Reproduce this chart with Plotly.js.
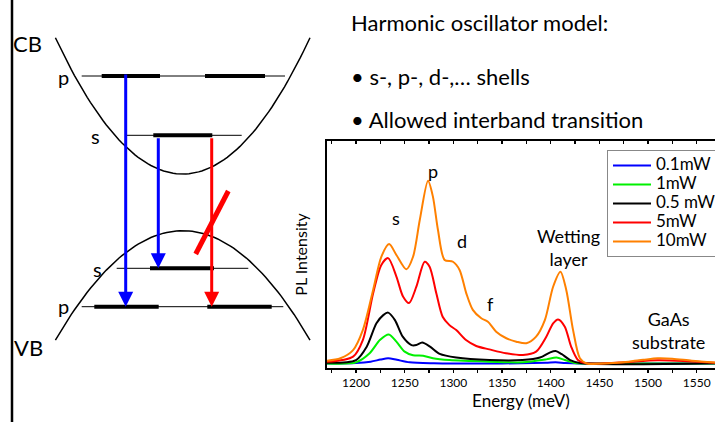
<!DOCTYPE html>
<html>
<head>
<meta charset="utf-8">
<script src="https://cdn.plot.ly/plotly-3.0.1.min.js"></script>
<style>html,body{margin:0;padding:0;background:#fff;}#chart{width:715px;height:422px;}</style>
</head>
<body>
<div id="chart"></div>
<script>
// ---------- PL spectra (Energy in meV, intensity in arbitrary units) ----------
const seriesNames = ["0.1mW", "1mW", "0.5 mW", "5mW", "10mW"];
const seriesColors = ["#0000FF", "#00F000", "#000000", "#FF0000", "#FF8000"];

const energy_01mW = [1170, 1200, 1215, 1225, 1233, 1242, 1255, 1280, 1350, 1395, 1405, 1415, 1430, 1500, 1569];
const pl_01mW     = [2.0, 2.2, 2.8, 3.7, 4.3, 3.6, 2.5, 2.1, 2.0, 2.3, 2.5, 2.2, 2.0, 2.0, 2.0];

const energy_1mW = [1170, 1200, 1214, 1224.5, 1233.7, 1241.5, 1250, 1258.6, 1269, 1279, 1296, 1337, 1371, 1395.5, 1406, 1414.5, 1425, 1440, 1569];
const pl_1mW     = [2.0, 2.5, 6.5, 12.3, 14.8, 11.6, 7.2, 5.6, 5.4, 4.3, 3.5, 2.8, 2.5, 3.8, 4.6, 3.5, 2.2, 2.0, 2.0];

const energy_05mW = [1170, 1200, 1211, 1221, 1228, 1233, 1240, 1248, 1257, 1262, 1268, 1276, 1286, 1303, 1337, 1371, 1389, 1399, 1405, 1411, 1420, 1430, 1569];
const pl_05mW     = [2.3, 3.5, 9.4, 19.7, 23.3, 24.4, 21.1, 13.8, 10.1, 10.1, 11.2, 9.4, 6.2, 4.6, 3.5, 3.5, 4.6, 6.8, 7.5, 6.2, 3.5, 2.2, 2.1];

const energy_5mW = [1170, 1197, 1207, 1217.6, 1226, 1233, 1241.5, 1248.3, 1254.5, 1262, 1270.5, 1275.6, 1282.5, 1289, 1296, 1303, 1313, 1323.5, 1337, 1354, 1371.5, 1385, 1395.5, 1402.5, 1407.6, 1414.5, 1421, 1428, 1436, 1470, 1510, 1540, 1569];
const pl_5mW     = [2.7, 5.0, 12.3, 32.9, 45.4, 48.4, 40.3, 31.5, 28.6, 35.8, 46.8, 44.6, 32.9, 22.6, 18.9, 16.7, 12.3, 9.7, 8.2, 6.5, 5.7, 7.2, 13.8, 19.7, 21.4, 18.2, 9.4, 3.5, 2.1, 2.4, 3.4, 3.0, 2.3];

const energy_10mW = [1170, 1184, 1197, 1207, 1217.6, 1226, 1234, 1241.5, 1251.7, 1258.6, 1265.5, 1274, 1279, 1284.2, 1291, 1299.6, 1306.4, 1313.3, 1320, 1328.7, 1335.5, 1344, 1354.4, 1364.7, 1375, 1385, 1394, 1402.5, 1410, 1416, 1423, 1430, 1437, 1460, 1480, 1495, 1510, 1525, 1545, 1569];
const pl_10mW     = [3.2, 4.3, 7.9, 16.7, 34.4, 49.0, 54.6, 49.8, 43.5, 49.0, 65.2, 82.5, 75.5, 60.8, 47.6, 46.8, 43.2, 32.9, 25.6, 21.9, 20.4, 16.0, 13.1, 11.6, 10.9, 13.8, 21.1, 35.8, 42.4, 34.4, 16.7, 4.3, 2.0, 2.1, 2.8, 3.6, 4.3, 4.1, 3.2, 2.4];

const energyTickVals = [1200, 1250, 1300, 1350, 1400, 1450, 1500, 1550];

// Peak labels on the spectrum
const peakLabels = ["s", "p", "d", "f", "Wetting<br>layer", "GaAs<br>substrate"];
const peakLabelE = [1241, 1279, 1309, 1338, 1418, 1521];
const peakLabelI = [66, 87, 56, 28, 53, 16.5];

// ---------- Band diagram (schematic, diagram units = pixels of the slide) ----------
const cbMin = {x: 182.7, y: 174, k: 0.00841};
const vbMax = {x: 182.7, y: 230.7, k: 0.00675};
const bandHalfWidth = 127.3;
const levelNames = ["CB p", "CB s", "VB s", "VB p"];
const levelY      = [76, 135.3, 268.3, 306.7];
const levelThinX0 = [81.7, 125, 116.7, 81.7];
const levelThinX1 = [285, 241.7, 248.3, 283.3];
const levelThick  = [[[101.7, 160], [205, 265]], [[153.3, 212.3]], [[150, 214]], [[94.3, 158.7], [207.3, 271.7]]];
const transX     = [125.7, 158.3, 211.7];
const transFrom  = [73, 136.7, 136.7];
const transTo    = [306.7, 268.3, 306.7];
const transColor = ["#0000FF", "#0000FF", "#FF0000"];
const forbiddenSlash = {x: [195.7, 228.3], y: [254, 191]};
const diagramLabels = ["CB", "VB", "p", "s", "s", "p"];
const diagramLabelX = [27, 28, 63, 95, 97, 63];
const diagramLabelY = [43, 347, 77, 136, 269, 306];
const diagramLabelSize = [22, 22, 20, 20, 20, 20];

const bulletText = ["Harmonic oscillator model:", "\u2022 s-, p-, d-,\u2026 shells", "\u2022 Allowed interband transition"];
const bulletY = [22, 76, 119];

// ---------- build ----------
const W = 715, H = 422;
const FONT = "Lato, 'Open Sans', sans-serif";
const traces = [];

const specX = [energy_01mW, energy_1mW, energy_05mW, energy_5mW, energy_10mW];
const specY = [pl_01mW, pl_1mW, pl_05mW, pl_5mW, pl_10mW];
for (let i = 0; i < seriesNames.length; i++) {
  traces.push({
    x: specX[i], y: specY[i], type: "scatter", mode: "lines",
    name: '<span style="font-size:17px">' + seriesNames[i] + '</span>',
    line: {color: seriesColors[i], width: 2, shape: "spline", smoothing: 0.8},
    xaxis: "x", yaxis: "y", hoverinfo: "skip"
  });
}

function band(c, sign) {
  const xs = [], ys = [];
  for (let dx = -bandHalfWidth; dx <= bandHalfWidth + 0.01; dx += bandHalfWidth / 40) {
    xs.push(c.x + dx); ys.push(c.y + sign * c.k * dx * dx);
  }
  return {x: xs, y: ys};
}
const cb = band(cbMin, -1), vb = band(vbMax, 1);
[cb, vb].forEach(b => traces.push({x: b.x, y: b.y, xaxis: "x2", yaxis: "y2", mode: "lines",
  line: {color: "#000", width: 1.5}, showlegend: false, hoverinfo: "skip"}));

for (let i = 0; i < levelY.length; i++) {
  traces.push({x: [levelThinX0[i], levelThinX1[i]], y: [levelY[i], levelY[i]], xaxis: "x2", yaxis: "y2",
    mode: "lines", line: {color: "#000", width: 1}, showlegend: false, hoverinfo: "skip"});
  levelThick[i].forEach(seg => traces.push({x: seg, y: [levelY[i], levelY[i]], xaxis: "x2", yaxis: "y2",
    mode: "lines", line: {color: "#000", width: 4}, showlegend: false, hoverinfo: "skip"}));
}
traces.push({x: forbiddenSlash.x, y: forbiddenSlash.y, xaxis: "x2", yaxis: "y2", mode: "lines",
  line: {color: "#FF0000", width: 5}, showlegend: false, hoverinfo: "skip"});
traces.push({x: [12, 12], y: [0, 422], xaxis: "x2", yaxis: "y2", mode: "lines",
  line: {color: "#000", width: 2.5}, showlegend: false, hoverinfo: "skip"});

const annotations = [];
for (let i = 0; i < transX.length; i++) {
  annotations.push({x: transX[i], y: transTo[i], ax: transX[i], ay: transFrom[i], xref: "x2", yref: "y2",
    axref: "x2", ayref: "y2", text: "", showarrow: true, arrowhead: 2, arrowsize: 1, arrowwidth: 3,
    arrowcolor: transColor[i], standoff: 0, startstandoff: 0});
}
for (let i = 0; i < diagramLabels.length; i++) {
  annotations.push({x: diagramLabelX[i], y: diagramLabelY[i], xref: "x2", yref: "y2", text: diagramLabels[i],
    showarrow: false, font: {family: FONT, size: diagramLabelSize[i], color: "#000"}});
}
for (let i = 0; i < bulletText.length; i++) {
  annotations.push({x: 349, y: bulletY[i], xref: "x2", yref: "y2", xanchor: "left", text: bulletText[i],
    showarrow: false, font: {family: FONT, size: 22, color: "#000"}});
}
for (let i = 0; i < peakLabels.length; i++) {
  annotations.push({x: peakLabelE[i], y: peakLabelI[i], xref: "x", yref: "y", text: peakLabels[i],
    showarrow: false, font: {family: FONT, size: 18, color: "#000"}});
}

const plotL = 327, plotT = 141, plotB = 368;
const xRange = [1170.2, 1568.8];
const layout = {
  width: W, height: H, margin: {l: 0, r: 0, t: 0, b: 0, autoexpand: false},
  paper_bgcolor: "#fff", plot_bgcolor: "rgba(0,0,0,0)", showlegend: true,
  font: {family: FONT, color: "#000"},
  xaxis: {domain: [plotL / W, 1], range: xRange, anchor: "y",
    showline: true, linewidth: 2, linecolor: "#000", mirror: true,
    ticks: "outside", ticklen: 3, tickwidth: 1.5, tickcolor: "#000",
    tickvals: energyTickVals, tickfont: {family: FONT, size: 12},
    minor: {dtick: 25, tick0: 1175, ticks: "outside", ticklen: 3, tickwidth: 1.5, tickcolor: "#000"},
    showgrid: false, zeroline: false,
    title: {text: "Energy (meV)", font: {family: FONT, size: 17}, standoff: 6}},
  xaxis3: {domain: [plotL / W, 1], range: xRange, anchor: "y", overlaying: "x", side: "top",
    showline: false, ticks: "inside", ticklen: 3, tickwidth: 1.5, tickcolor: "#000",
    dtick: 25, tick0: 1175, showticklabels: false, showgrid: false, zeroline: false},
  yaxis: {domain: [1 - plotB / H, 1 - plotT / H], range: [0, 100], anchor: "x",
    showline: true, linewidth: 2, linecolor: "#000", mirror: false,
    showticklabels: false, ticks: "", showgrid: false, zeroline: false,
    title: {text: "PL Intensity", font: {family: FONT, size: 16}, standoff: 13}},
  xaxis2: {domain: [0, 1], range: [0, W], visible: false, anchor: "y2", fixedrange: true},
  yaxis2: {domain: [0, 1], range: [H, 0], visible: false, anchor: "x2", fixedrange: true},
  legend: {x: 607 / W, y: 1 - 150 / H, xref: "paper", yref: "paper", xanchor: "left", yanchor: "top",
    bgcolor: "#fff", bordercolor: "#888", borderwidth: 1, font: {family: FONT, size: 12},
    tracegroupgap: 0, itemwidth: 38},
  annotations: annotations
};

traces.push({x: xRange, y: [0, 0], xaxis: "x3", yaxis: "y", mode: "lines",
  line: {width: 0, color: "rgba(0,0,0,0)"}, showlegend: false, hoverinfo: "skip"});

Plotly.newPlot("chart", traces, layout, {staticPlot: true, displayModeBar: false});
</script>
</body>
</html>
